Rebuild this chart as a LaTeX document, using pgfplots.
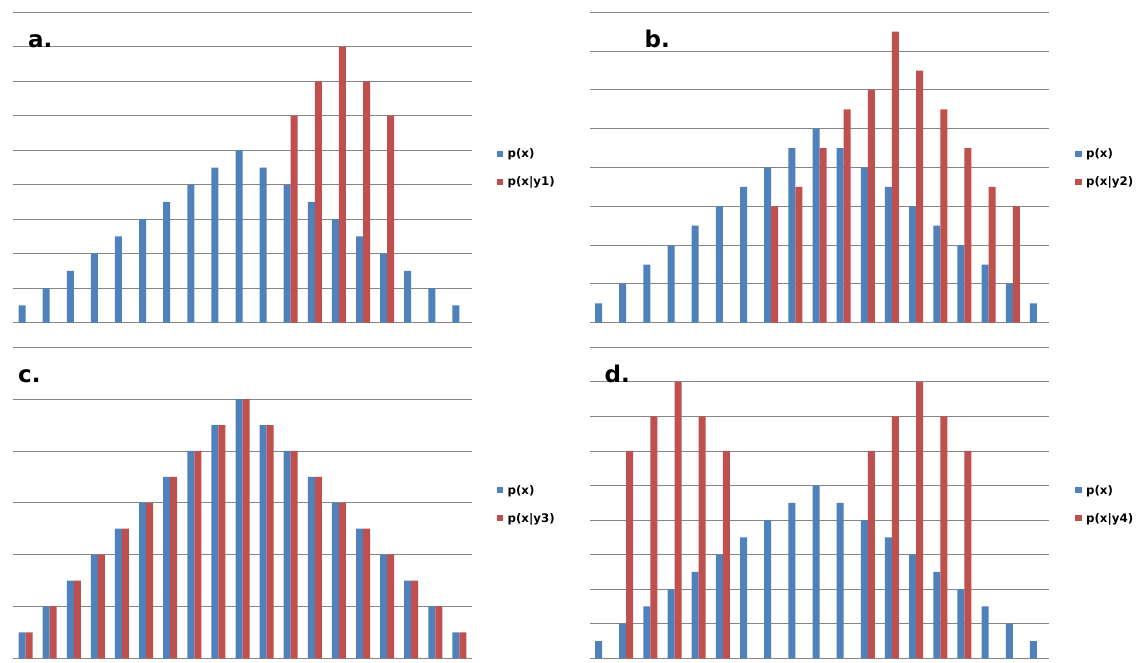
\documentclass[border=0pt]{standalone}
\usepackage{fontspec}
\setmainfont{DejaVu Sans}
\usepackage{pgfplots}
\pgfplotsset{compat=1.18}
\definecolor{xblue}{RGB}{79,129,189}
\definecolor{xred}{RGB}{192,80,77}
\definecolor{xgrid}{RGB}{134,134,134}
\pgfplotsset{panel/.style={
  scale only axis, xmin=0.5, xmax=19.5, ymin=0,
  axis line style={draw=none},
  xtick=\empty, yticklabels={},
  ymajorgrids, major grid style={xgrid, line width=0.9pt},
  major tick length=0pt,
  ybar=0pt, bar width=7pt,
  legend cell align=left,
  legend style={draw=none, fill=none, font=\bfseries\fontsize{11.8}{13}\selectfont,
    anchor=west, row sep=15pt, inner sep=0pt, nodes={inner sep=1.2pt},
    /tikz/every odd column/.append style={column sep=3pt}},
  legend image code/.code={\fill[##1] (0pt,-3pt) rectangle (6.5pt,3.5pt);},
  clip=false,
}}
\begin{document}
\begin{tikzpicture}
\useasboundingbox (0pt,0pt) rectangle (1139pt,-662pt);
% Panel a
\begin{axis}[panel, at={(13.5pt,-322.7pt)}, anchor=south west, width=458pt, height=310.4pt,
  ymax=18, ytick={0,2,...,18}, legend style={at={(1.055,0.498)}}]
\addplot[fill=xblue, draw=none] coordinates {(1,1)(2,2)(3,3)(4,4)(5,5)(6,6)(7,7)(8,8)(9,9)(10,10)(11,9)(12,8)(13,7)(14,6)(15,5)(16,4)(17,3)(18,2)(19,1)};
\addplot[fill=xred, draw=none] coordinates {(12,12)(13,14)(14,16)(15,14)(16,12)};
\legend{p(x),p(x|y1)}
\end{axis}
% Panel b
\begin{axis}[panel, at={(590pt,-322.7pt)}, anchor=south west, width=459pt, height=310.4pt,
  ymax=16, ytick={0,2,...,16}, legend style={at={(1.057,0.498)}}]
\addplot[fill=xblue, draw=none] coordinates {(1,1)(2,2)(3,3)(4,4)(5,5)(6,6)(7,7)(8,8)(9,9)(10,10)(11,9)(12,8)(13,7)(14,6)(15,5)(16,4)(17,3)(18,2)(19,1)};
\addplot[fill=xred, draw=none] coordinates {(8,6)(9,7)(10,9)(11,11)(12,12)(13,15)(14,13)(15,11)(16,9)(17,7)(18,6)};
\legend{p(x),p(x|y2)}
\end{axis}
% Panel c
\begin{axis}[panel, at={(13.5pt,-658.3pt)}, anchor=south west, width=458pt, height=311pt,
  ymax=12, ytick={0,2,...,12}, legend style={at={(1.055,0.495)}}]
\addplot[fill=xblue, draw=none] coordinates {(1,1)(2,2)(3,3)(4,4)(5,5)(6,6)(7,7)(8,8)(9,9)(10,10)(11,9)(12,8)(13,7)(14,6)(15,5)(16,4)(17,3)(18,2)(19,1)};
\addplot[fill=xred, draw=none] coordinates {(1,1)(2,2)(3,3)(4,4)(5,5)(6,6)(7,7)(8,8)(9,9)(10,10)(11,9)(12,8)(13,7)(14,6)(15,5)(16,4)(17,3)(18,2)(19,1)};
\legend{p(x),p(x|y3)}
\end{axis}
% Panel d
\begin{axis}[panel, at={(590pt,-658.3pt)}, anchor=south west, width=459pt, height=311pt,
  ymax=18, ytick={0,2,...,18}, legend style={at={(1.057,0.495)}}]
\addplot[fill=xblue, draw=none] coordinates {(1,1)(2,2)(3,3)(4,4)(5,5)(6,6)(7,7)(8,8)(9,9)(10,10)(11,9)(12,8)(13,7)(14,6)(15,5)(16,4)(17,3)(18,2)(19,1)};
\addplot[fill=xred, draw=none] coordinates {(2,12)(3,14)(4,16)(5,14)(6,12)(12,12)(13,14)(14,16)(15,14)(16,12)};
\legend{p(x),p(x|y4)}
\end{axis}
\begin{scope}[every node/.style={anchor=base west, inner sep=0pt, font=\bfseries\fontsize{23}{25}\selectfont}]
\node at (28pt,-47pt) {a.};
\node at (644.5pt,-47pt) {b.};
\node at (18pt,-382pt) {c.};
\node at (604.5pt,-382pt) {d.};
\end{scope}
\end{tikzpicture}
\end{document}
